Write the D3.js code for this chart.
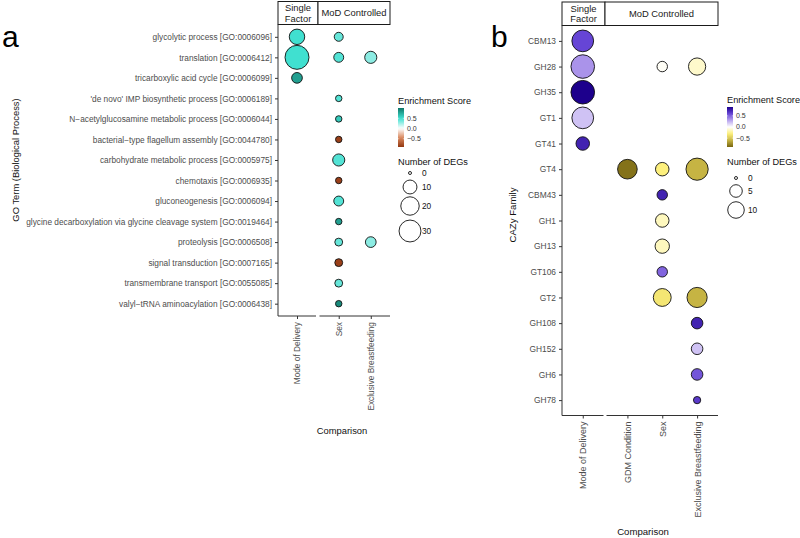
<!DOCTYPE html>
<html>
<head>
<meta charset="utf-8">
<script src="https://cdn.jsdelivr.net/npm/d3@7/dist/d3.min.js"></script>
<style>
  html, body { margin: 0; padding: 0; background: #fff; }
  svg { display: block; font-family: "Liberation Sans", Arial, Helvetica, sans-serif; }
</style>
</head>
<body>
<svg id="chart" width="800" height="538"></svg>
<script>
// ---------------- DATA ----------------
// Panel a: GO terms (Biological Process)
const goTerms = [
  "glycolytic process [GO:0006096]",
  "translation [GO:0006412]",
  "tricarboxylic acid cycle [GO:0006099]",
  "'de novo' IMP biosynthetic process [GO:0006189]",
  "N\u2212acetylglucosamine metabolic process [GO:0006044]",
  "bacterial\u2212type flagellum assembly [GO:0044780]",
  "carbohydrate metabolic process [GO:0005975]",
  "chemotaxis [GO:0006935]",
  "gluconeogenesis [GO:0006094]",
  "glycine decarboxylation via glycine cleavage system [GO:0019464]",
  "proteolysis [GO:0006508]",
  "signal transduction [GO:0007165]",
  "transmembrane transport [GO:0055085]",
  "valyl\u2212tRNA aminoacylation [GO:0006438]"
];
const goSingleComparisons = ["Mode of Delivery"];
const goControlledComparisons = ["Sex", "Exclusive Breastfeeding"];
const goPointTerm = [0, 0, 1, 1, 1, 2, 3, 4, 5, 6, 7, 8, 9, 10, 10, 11, 12, 13];
const goPointComparison = ["Mode of Delivery", "Sex", "Mode of Delivery", "Sex", "Exclusive Breastfeeding",
  "Mode of Delivery", "Sex", "Sex", "Sex", "Sex", "Sex", "Sex", "Sex", "Sex", "Exclusive Breastfeeding",
  "Sex", "Sex", "Sex"];
const goPointDEGs = [13, 3, 37, 4, 7, 5, 1, 1, 1, 7, 1, 4, 1, 2, 5, 2, 2, 1];
const goPointScore = [0.5, 0.4, 0.5, 0.45, 0.3, 0.8, 0.45, 0.6, -0.85, 0.45, -0.85, 0.45, 0.8, 0.4, 0.3, -0.85, 0.4, 0.9];
const goScoreTicks = [0.5, 0.0, -0.5];
const goSizeTicks = [0, 10, 20, 30];

// Panel b: CAZy families
const cazyFamilies = ["CBM13", "GH28", "GH35", "GT1", "GT41", "GT4", "CBM43", "GH1", "GH13",
  "GT106", "GT2", "GH108", "GH152", "GH6", "GH78"];
const cazySingleComparisons = ["Mode of Delivery"];
const cazyControlledComparisons = ["GDM Condition", "Sex", "Exclusive Breastfeeding"];
const cazyPointFamily = ["CBM13", "GH28", "GH35", "GT1", "GT41", "GH28", "GH28", "GT4", "GT4", "GT4",
  "CBM43", "GH1", "GH13", "GT106", "GT2", "GT2", "GH108", "GH152", "GH6", "GH78"];
const cazyPointComparison = ["Mode of Delivery", "Mode of Delivery", "Mode of Delivery", "Mode of Delivery",
  "Mode of Delivery", "Sex", "Exclusive Breastfeeding", "GDM Condition", "Sex", "Exclusive Breastfeeding",
  "Sex", "Sex", "Sex", "Sex", "Sex", "Exclusive Breastfeeding", "Exclusive Breastfeeding",
  "Exclusive Breastfeeding", "Exclusive Breastfeeding", "Exclusive Breastfeeding"];
const cazyPointDEGs = [19, 23, 23, 19, 6, 3, 11, 15, 6, 20, 3, 6, 7, 3, 12, 16, 4, 4, 4, 1];
const cazyPointScore = [0.6, 0.35, 0.9, 0.2, 0.75, -0.02, -0.12, -0.85, -0.3, -0.6, 0.75, -0.15, -0.15,
  0.5, -0.35, -0.6, 0.75, 0.2, 0.55, 0.65];
const cazyScoreTicks = [0.5, 0.0, -0.5];
const cazySizeTicks = [0, 5, 10];

// ---------------- DRAWING ----------------
const svg = d3.select("#chart");
const FONT_AXIS_GREY = "#4d4d4d";

function drawPanel(cfg) {
  const g = svg.append("g");
  const y = d3.scalePoint().domain(cfg.rows).range([cfg.top, cfg.bottom]).padding(0.6);
  const x1 = d3.scalePoint().domain(cfg.single).range(cfg.x1Range).padding(0.5);
  const x2 = d3.scalePoint().domain(cfg.controlled).range(cfg.x2Range).padding(0.6);
  const xOf = c => cfg.single.includes(c) ? x1(c) : x2(c);
  const r = d3.scaleSqrt().domain(cfg.sizeDomain).range(cfg.sizeRange);
  const color = d3.scaleLinear().domain(cfg.colorDomain).range(cfg.colorRange).interpolate(d3.interpolateRgb);

  // strips
  const strips = [
    {x0: cfg.x1Range[0], x1: cfg.stripSplit, lines: ["Single", "Factor"]},
    {x0: cfg.stripSplit, x1: cfg.x2Range[1], lines: ["MoD Controlled"]}
  ];
  strips.forEach(s => {
    g.append("rect").attr("x", s.x0).attr("y", cfg.stripTop)
      .attr("width", s.x1 - s.x0).attr("height", cfg.top - cfg.stripTop)
      .attr("fill", "#fff").attr("stroke", "#1a1a1a").attr("stroke-width", 1);
    const cy = (cfg.stripTop + cfg.top) / 2;
    const n = s.lines.length;
    s.lines.forEach((t, i) => {
      g.append("text").attr("x", (s.x0 + s.x1) / 2)
        .attr("y", cy + (i - (n - 1) / 2) * cfg.stripFont * 1.12)
        .attr("dy", "0.35em").attr("text-anchor", "middle")
        .attr("font-size", cfg.stripFont).attr("fill", "#1a1a1a").text(t);
    });
  });

  // y axis
  const yAxis = g.append("g").attr("transform", `translate(${cfg.x1Range[0]},0)`)
    .call(d3.axisLeft(y).tickSize(3).tickSizeOuter(0).tickPadding(3));
  yAxis.select(".domain").attr("stroke", "#333").attr("d", `M0,${cfg.top}V${cfg.bottom}`);
  yAxis.selectAll(".tick line").attr("stroke", "#333");
  yAxis.selectAll("text").attr("font-size", cfg.yTickFont).attr("fill", FONT_AXIS_GREY)
    .attr("font-family", "'Liberation Sans', Arial, sans-serif");

  // x axes (per facet)
  [[x1, cfg.x1Range], [x2, cfg.x2Range]].forEach(([sc, rg]) => {
    const ax = g.append("g").attr("transform", `translate(0,${cfg.bottom})`)
      .call(d3.axisBottom(sc).tickSize(3).tickSizeOuter(0));
    ax.select(".domain").attr("stroke", "#333").attr("d", `M${rg[0]},0H${rg[1]}`);
    ax.selectAll(".tick line").attr("stroke", "#333");
    ax.selectAll("text").attr("font-size", cfg.xTickFont).attr("fill", FONT_AXIS_GREY)
      .attr("font-family", "'Liberation Sans', Arial, sans-serif")
      .attr("transform", "rotate(-90)").attr("x", -6).attr("y", 0).attr("dy", "0.35em")
      .style("text-anchor", "end");
  });

  // points
  const pts = cfg.pointRow.map((rw, i) => ({
    row: rw, comp: cfg.pointComp[i], n: cfg.pointDEGs[i], s: cfg.pointScore[i]
  }));
  g.append("g").selectAll("circle").data(pts).join("circle")
    .attr("cx", d => xOf(d.comp)).attr("cy", d => y(d.row))
    .attr("r", d => r(d.n)).attr("fill", d => color(d.s))
    .attr("stroke", "#111").attr("stroke-width", 0.9);

  // axis titles
  g.append("text").attr("x", cfg.xTitle[0]).attr("y", cfg.xTitle[1]).attr("text-anchor", "middle")
    .attr("font-size", cfg.titleFont).attr("fill", "#111").text("Comparison");
  g.append("text").attr("transform", `translate(${cfg.yTitle[0]},${cfg.yTitle[1]}) rotate(-90)`)
    .attr("text-anchor", "middle").attr("dy", "0.35em")
    .attr("font-size", cfg.titleFont).attr("fill", "#111").text(cfg.yTitleText);

  // panel letter
  g.append("text").attr("x", cfg.letterPos[0]).attr("y", cfg.letterPos[1])
    .attr("font-size", 30).attr("fill", "#000").text(cfg.letter);

  // legend: colour bar
  const L = cfg.legend;
  g.append("text").attr("x", L.x).attr("y", L.titleY).attr("font-size", 9.2).attr("fill", "#111")
    .text("Enrichment Score");
  const gid = "grad" + cfg.letter;
  const grad = svg.append("defs").append("linearGradient").attr("id", gid)
    .attr("x1", 0).attr("x2", 0).attr("y1", 1).attr("y2", 0);
  const barScale = d3.scaleLinear().domain(cfg.barDomain).range([L.barBottom, L.barTop]);
  d3.range(0, 21).forEach(i => {
    const v = cfg.barDomain[0] + (cfg.barDomain[1] - cfg.barDomain[0]) * i / 20;
    grad.append("stop").attr("offset", (i / 20 * 100) + "%").attr("stop-color", color(v));
  });
  g.append("rect").attr("x", L.x).attr("y", L.barTop).attr("width", 6)
    .attr("height", L.barBottom - L.barTop).attr("fill", `url(#${gid})`);
  cfg.scoreTicks.forEach(t => {
    g.append("text").attr("x", L.x + 9).attr("y", barScale(t)).attr("dy", "0.35em")
      .attr("font-size", 7).attr("fill", "#333").text(d3.format(".1f")(t).replace("-", "\u2212"));
    g.append("line").attr("x1", L.x).attr("x2", L.x + 1.2).attr("y1", barScale(t)).attr("y2", barScale(t))
      .attr("stroke", "#fff").attr("stroke-width", 0.5);
    g.append("line").attr("x1", L.x + 4.8).attr("x2", L.x + 6).attr("y1", barScale(t)).attr("y2", barScale(t))
      .attr("stroke", "#fff").attr("stroke-width", 0.5);
  });

  // legend: size
  g.append("text").attr("x", L.x).attr("y", L.sizeTitleY).attr("font-size", 9.2).attr("fill", "#111")
    .text("Number of DEGs");
  cfg.sizeTicks.forEach((t, i) => {
    g.append("circle").attr("cx", L.circleX).attr("cy", L.sizeKeyY[i]).attr("r", r(t))
      .attr("fill", "#fff").attr("stroke", "#111").attr("stroke-width", 0.9);
    g.append("text").attr("x", L.labelX).attr("y", L.sizeKeyY[i]).attr("dy", "0.35em")
      .attr("font-size", 8.3).attr("fill", "#111").text(t);
  });
}

drawPanel({
  letter: "a", letterPos: [2, 47],
  rows: goTerms,
  single: goSingleComparisons, controlled: goControlledComparisons,
  top: 24.5, bottom: 316, stripTop: 1.5, stripSplit: 318,
  x1Range: [278, 316], x2Range: [319.5, 390],
  pointRow: goPointTerm.map(i => goTerms[i]), pointComp: goPointComparison,
  pointDEGs: goPointDEGs, pointScore: goPointScore,
  sizeDomain: [0, 37], sizeRange: [1.5, 12],
  colorDomain: [-0.9, -0.45, 0, 0.5, 1.0],
  colorRange: ["#923710", "#d9885e", "#ffffff", "#40e0d0", "#0e7466"],
  barDomain: [-0.9, 1.0],
  stripFont: 9.4, yTickFont: 8.3, xTickFont: 8.3, titleFont: 9.4,
  xTitle: [342, 434], yTitle: [16, 160], yTitleText: "GO Term (Biological Process)",
  scoreTicks: goScoreTicks, sizeTicks: goSizeTicks,
  legend: { x: 398, titleY: 104, barTop: 108, barBottom: 147, sizeTitleY: 165,
            sizeKeyY: [173, 187, 206, 231], circleX: 410, labelX: 422 }
});

drawPanel({
  letter: "b", letterPos: [491, 47],
  rows: cazyFamilies,
  single: cazySingleComparisons, controlled: cazyControlledComparisons,
  top: 25.5, bottom: 415.5, stripTop: 2, stripSplit: 605,
  x1Range: [562, 603.5], x2Range: [606.5, 718],
  pointRow: cazyPointFamily, pointComp: cazyPointComparison,
  pointDEGs: cazyPointDEGs, pointScore: cazyPointScore,
  sizeDomain: [0, 23], sizeRange: [1.5, 11.8],
  colorDomain: [-0.9, -0.6, -0.3, 0, 0.3, 0.6, 0.9],
  colorRange: ["#776510", "#c6b443", "#fdf07d", "#ffffff", "#b7a3ee", "#6645d6", "#1d008c"],
  barDomain: [-0.9, 0.9],
  stripFont: 9.4, yTickFont: 8.4, xTickFont: 9, titleFont: 9.6,
  xTitle: [643, 535], yTitle: [513, 215], yTitleText: "CAZy Family",
  scoreTicks: cazyScoreTicks, sizeTicks: cazySizeTicks,
  legend: { x: 727, titleY: 103, barTop: 107, barBottom: 147, sizeTitleY: 165,
            sizeKeyY: [178, 191, 210], circleX: 736, labelX: 748 }
});
</script>
</body>
</html>
